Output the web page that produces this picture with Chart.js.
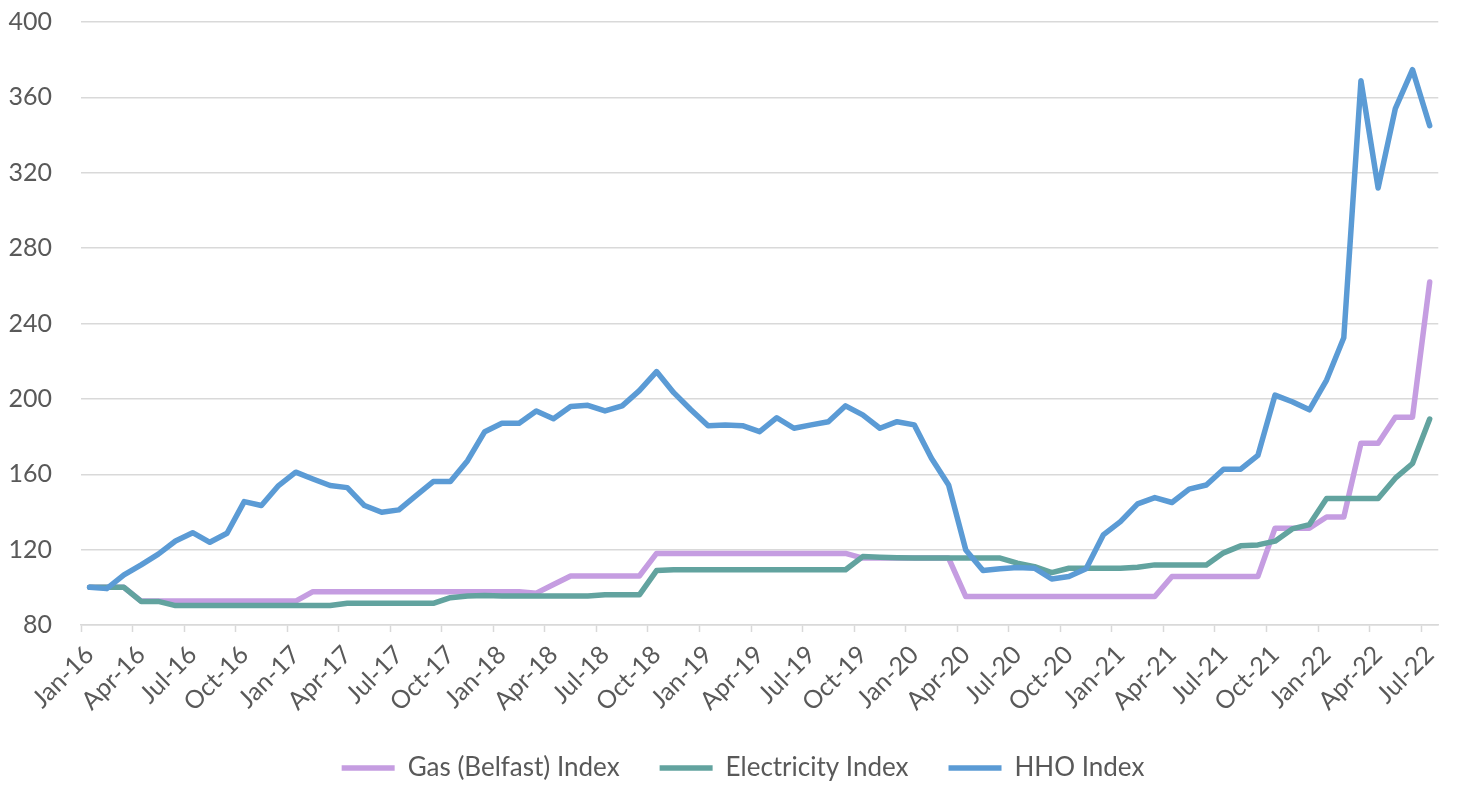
<!DOCTYPE html>
<html lang="en">
<head>
    <meta charset="UTF-8" />
    <title>Fuel price indices</title>
    <script src="https://cdn.jsdelivr.net/npm/chart.js"></script>
    <style>
        html, body { margin: 0; padding: 0; background: #fff; }
        .wrap { position: relative; width: 1459px; height: 785px; }
    </style>
</head>
<body>
<div class="wrap"><canvas id="indexChart"></canvas></div>

<script>
    // months, Jan-16 .. Jul-22
    const labels = [
        'Jan-16','Feb-16','Mar-16','Apr-16','May-16','Jun-16','Jul-16','Aug-16','Sep-16','Oct-16','Nov-16','Dec-16',
        'Jan-17','Feb-17','Mar-17','Apr-17','May-17','Jun-17','Jul-17','Aug-17','Sep-17','Oct-17','Nov-17','Dec-17',
        'Jan-18','Feb-18','Mar-18','Apr-18','May-18','Jun-18','Jul-18','Aug-18','Sep-18','Oct-18','Nov-18','Dec-18',
        'Jan-19','Feb-19','Mar-19','Apr-19','May-19','Jun-19','Jul-19','Aug-19','Sep-19','Oct-19','Nov-19','Dec-19',
        'Jan-20','Feb-20','Mar-20','Apr-20','May-20','Jun-20','Jul-20','Aug-20','Sep-20','Oct-20','Nov-20','Dec-20',
        'Jan-21','Feb-21','Mar-21','Apr-21','May-21','Jun-21','Jul-21','Aug-21','Sep-21','Oct-21','Nov-21','Dec-21',
        'Jan-22','Feb-22','Mar-22','Apr-22','May-22','Jun-22','Jul-22'
    ];

    const gasIndex = [
        100, 100, 100, 92.7, 92.7, 92.7, 92.7, 92.7, 92.7, 92.7, 92.7, 92.7,
        92.7, 97.7, 97.7, 97.7, 97.7, 97.7, 97.7, 97.7, 97.7, 97.7, 97.7, 97.7,
        97.7, 97.7, 96.9, 101.5, 106, 106, 106, 106, 106, 118, 118, 118,
        118, 118, 118, 118, 118, 118, 118, 118, 118, 115.5, 115.5, 115.5,
        115.5, 115.5, 115.5, 95.1, 95.1, 95.1, 95.1, 95.1, 95.1, 95.1, 95.1, 95.1,
        95.1, 95.1, 95.1, 105.7, 105.7, 105.7, 105.7, 105.7, 105.7, 131.4, 131.4, 131.4,
        137.3, 137.3, 176.5, 176.5, 190.3, 190.3, 262
    ];

    const elecIndex = [
        100, 100, 100, 92.5, 92.5, 90.3, 90.3, 90.3, 90.3, 90.3, 90.3, 90.3,
        90.3, 90.3, 90.3, 91.5, 91.5, 91.5, 91.5, 91.5, 91.5, 94.5, 95.4, 95.6,
        95.4, 95.4, 95.4, 95.4, 95.4, 95.4, 96, 96, 96, 108.9, 109.3, 109.3,
        109.3, 109.3, 109.3, 109.3, 109.3, 109.3, 109.3, 109.3, 109.3, 116.3, 116, 115.7,
        115.5, 115.5, 115.5, 115.5, 115.5, 115.5, 112.8, 111, 107.8, 110.1, 110.1, 110.1,
        110.1, 110.6, 111.9, 111.9, 111.9, 111.9, 118.3, 122, 122.5, 124.5, 131, 133.3,
        147.1, 147.1, 147.1, 147.1, 157.9, 165.7, 189.3
    ];

    const hhoIndex = [
        100, 99.3, 106.6, 111.9, 117.6, 124.6, 129, 123.9, 128.7, 145.5, 143.4, 154,
        161.1, 157.5, 154, 152.9, 143.4, 139.8, 141.1, 148.7, 156.1, 156.1, 167.2, 182.6,
        187.1, 187.1, 193.6, 189.5, 195.9, 196.6, 193.6, 196.3, 204.4, 214.5, 203.3, 194.2,
        185.7, 186.2, 185.8, 182.6, 190, 184.4, 186.2, 187.9, 196.3, 191.5, 184.4, 187.9,
        186.2, 168.5, 154.3, 119.8, 108.9, 109.8, 110.5, 110.1, 104.4, 105.7, 109.8, 127.8,
        134.9, 144.3, 147.6, 145, 152.1, 154.3, 162.7, 162.7, 170, 202, 198.5, 194.2,
        210, 232.4, 368.8, 311.9, 354, 374.7, 345
    ];

    const yMin = 80, yMax = 400, yStep = 40;
    const labelEvery = 3;

    const textColor = '#595959';
    const gridColor = '#d9d9d9';

    function line(label, data, color, order) {
        return {
            label, data, order,
            borderColor: color,
            backgroundColor: color,
            borderWidth: 5.5,
            borderCapStyle: 'round',
            borderJoinStyle: 'round',
            pointRadius: 0,
            pointHoverRadius: 0,
            tension: 0
        };
    }

    // the legend in the original sits a little right of centre
    const legendNudge = {
        id: 'legendNudge',
        afterLayout(chart) {
            chart.legend.left += 22;
            chart.legend.right += 22;
        }
    };

    const ctx = document.getElementById('indexChart').getContext('2d');
    new Chart(ctx, {
        type: 'line',
        data: {
            labels,
            datasets: [
                line('Gas (Belfast) Index', gasIndex, '#c59de1', 3),
                line('Electricity Index', elecIndex, '#62a39f', 2),
                line('HHO Index', hhoIndex, '#5b9bd5', 1)
            ]
        },
        plugins: [legendNudge],
        options: {
            responsive: true,
            maintainAspectRatio: false,
            animation: false,
            layout: { padding: { top: 22, right: 17, bottom: -6, left: 0 } },
            plugins: {
                tooltip: { enabled: false },
                legend: {
                    position: 'bottom',
                    labels: {
                        usePointStyle: true,
                        pointStyle: 'line',
                        pointStyleWidth: 53,
                        padding: 40,
                        color: textColor,
                        font: { family: 'Lato', size: 26 },
                        sort: (a, b) => a.datasetIndex - b.datasetIndex
                    }
                }
            },
            scales: {
                x: {
                    offset: true,
                    afterFit: (s) => { s.height = 90; },
                    grid: {
                        offset: true,
                        drawOnChartArea: false,
                        tickLength: 7,
                        tickWidth: 1.5,
                        tickColor: (c) => (c.index % labelEvery === 0 ? gridColor : 'transparent')
                    },
                    border: { color: gridColor, width: 1.5 },
                    ticks: {
                        autoSkip: false,
                        minRotation: 45,
                        maxRotation: 45,
                        padding: 8,
                        color: textColor,
                        font: { family: 'Lato', size: 25 },
                        callback: (v, i) => (i % labelEvery === 0 ? labels[i] : '')
                    }
                },
                y: {
                    min: yMin,
                    max: yMax,
                    afterFit: (s) => {
                        s.width = 81;
                        s.paddingTop = 0;
                        s.paddingBottom = 0;
                    },
                    grid: { color: gridColor, lineWidth: 1.5, drawTicks: false },
                    border: { display: false },
                    ticks: {
                        stepSize: yStep,
                        padding: 29,
                        color: textColor,
                        font: { family: 'Lato', size: 25 }
                    }
                }
            }
        }
    });
</script>
</body>
</html>
